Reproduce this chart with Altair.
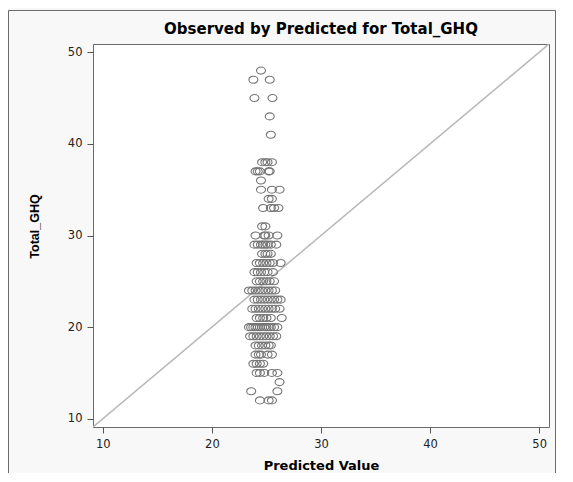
import altair as alt
import pandas as pd

# Observed Total_GHQ levels and the predicted values of the points on each level
obs_levels = [48, 47, 45, 43, 41, 38, 37, 36, 35, 34, 33, 31, 30, 29, 28, 27, 26,
              25, 24, 23, 22, 21, 20, 19, 18, 17, 16, 15, 14, 13, 12]
pred_by_level = [
    [24.5],
    [23.8, 25.3],
    [23.9, 25.55],
    [25.3],
    [25.4],
    [24.6, 24.9, 25.1, 25.5],
    [24.0, 24.2, 24.4, 25.2, 25.3],
    [24.5],
    [24.5, 25.5, 26.2],
    [25.2, 25.5],
    [24.7, 25.4, 25.7, 26.1],
    [24.6, 24.9],
    [24.0, 24.8, 24.9, 25.2, 26.0],
    [23.9, 24.2, 24.5, 24.7, 24.9, 25.1, 25.4, 25.9],
    [24.6, 24.9, 25.1, 25.4],
    [24.1, 24.4, 24.7, 25.0, 25.3, 25.6, 26.3],
    [23.9, 24.2, 24.5, 24.8, 25.1, 25.6],
    [24.1, 24.4, 24.7, 25.0, 25.3, 25.7],
    [23.4, 23.7, 24.0, 24.3, 24.6, 24.9, 25.2, 25.5, 25.8],
    [23.9, 24.2, 24.5, 24.8, 25.1, 25.4, 25.7, 26.0, 26.3],
    [23.7, 24.0, 24.3, 24.6, 24.9, 25.2, 25.5, 25.8, 26.2],
    [24.1, 24.4, 24.7, 25.0, 25.4, 26.4],
    [23.4, 23.6, 23.8, 24.0, 24.2, 24.4, 24.6, 24.8, 25.0, 25.2, 25.4, 25.7, 26.0],
    [23.5, 23.8, 24.1, 24.4, 24.7, 25.0, 25.3, 25.6, 25.9],
    [24.0, 24.3, 24.6, 24.9, 25.2, 25.4],
    [24.0, 24.3, 24.5, 25.1, 25.5],
    [23.8, 24.1, 24.4, 24.7],
    [24.1, 24.4, 24.8, 25.5, 26.0],
    [26.2],
    [23.6, 26.0],
    [24.4, 25.2, 25.5],
]
axis_ticks = [10, 20, 30, 40, 50]
axis_domain = [9.1, 50.9]
identity_line = [0, 60]

rows = []
for level, preds in zip(obs_levels, pred_by_level):
    for p in preds:
        rows.append({"Predicted": p, "Total_GHQ": level})
df = pd.DataFrame(rows)
line_df = pd.DataFrame({"Predicted": identity_line, "Total_GHQ": identity_line})

xs = alt.Scale(domain=axis_domain, nice=False, zero=False)
ys = alt.Scale(domain=axis_domain, nice=False, zero=False)

x_axis = alt.Axis(values=axis_ticks, grid=False, domain=False, tickSize=6,
                  tickColor="#555555", labelFont="DejaVu Sans", labelFontSize=11.5,
                  labelColor="#222222", labelPadding=5, title="Predicted Value",
                  titleFont="DejaVu Sans", titleFontSize=13, titleFontWeight="bold",
                  titleColor="#000000", titlePadding=10)
y_axis = alt.Axis(values=axis_ticks, grid=False, domain=False, tickSize=6,
                  tickColor="#555555", labelFont="DejaVu Sans", labelFontSize=11.5,
                  labelColor="#222222", labelPadding=5, title="Total_GHQ",
                  titleFont="Liberation Sans", titleFontSize=12.5, titleFontWeight="bold",
                  titleColor="#000000", titleX=-52, titleY=182)

ellipse = "M-1,0A1,0.78,0,1,0,1,0A1,0.78,0,1,0,-1,0Z"

line = alt.Chart(line_df).mark_line(color="#b8b8b8", strokeWidth=1.5, clip=True).encode(
    x=alt.X("Predicted:Q", scale=xs, axis=x_axis),
    y=alt.Y("Total_GHQ:Q", scale=ys, axis=y_axis),
)

pts = alt.Chart(df).mark_point(shape=ellipse, size=81, filled=False, color="#747474",
                               strokeWidth=1.1, opacity=1).encode(
    x=alt.X("Predicted:Q", scale=xs),
    y=alt.Y("Total_GHQ:Q", scale=ys),
)

frame_df = pd.DataFrame({"k": [0]})
left_frame = alt.Chart(frame_df).mark_rule(color="#6a6a6a", strokeWidth=1).encode(
    x=alt.value(-84.5), y=alt.value(-33.5), y2=alt.value(440))
top_frame = alt.Chart(frame_df).mark_rule(color="#6a6a6a", strokeWidth=1).encode(
    x=alt.value(-84.5), x2=alt.value(462.5), y=alt.value(-33.5))
right_frame = alt.Chart(frame_df).mark_rule(color="#6a6a6a", strokeWidth=1).encode(
    x=alt.value(462.5), y=alt.value(-33.5), y2=alt.value(440))

chart = alt.layer(line, pts, left_frame, top_frame, right_frame).properties(
    width=456, height=383,
    autosize="none",
    padding={"left": 85, "top": 36, "right": 7, "bottom": 46},
    background="#f8f8f8",
    title=alt.TitleParams("Observed by Predicted for Total_GHQ", font="DejaVu Sans",
                          fontSize=15, fontWeight="bold", anchor="middle",
                          offset=0, dy=27, color="#000000"),
).configure_view(stroke="#6a6a6a", strokeWidth=1, fill="#ffffff")

chart.save("out.html", embed_options={"renderer": "svg", "actions": False})
